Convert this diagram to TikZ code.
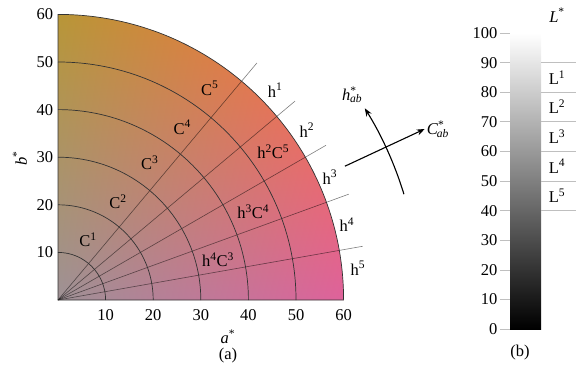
\documentclass[tikz,border=0pt]{standalone}
\usepackage{fontspec}
\setmainfont{Liberation Serif}
\usetikzlibrary{arrows.meta, shadings}

\definecolor{labUL}{RGB}{184,150,55}
\definecolor{labUR}{RGB}{255,110,60}
\definecolor{labLL}{RGB}{158,145,150}
\definecolor{labLR}{RGB}{222,98,155}

\begin{document}
\begin{tikzpicture}[x=1pt, y=1pt,
    ring/.style={draw=black!80, line width=0.7pt},
    hue/.style={draw=black, opacity=0.5, line width=0.6pt},
    tick/.style={draw=black!25, line width=0.6pt},
    lab/.style={font=\fontsize{16.5}{18}\selectfont, inner sep=0pt},
    dir/.style={line width=1.1pt, -{Stealth[length=8pt, width=6pt]}},
  ]
  \useasboundingbox (0,0) rectangle (588,370);

  \begin{scope}[shift={(58,70)}, x=4.76pt, y=4.76pt]
    \coordinate (o) at (0,0);
    \shade[upper left=labUL, upper right=labUR, lower left=labLL, lower right=labLR]
      (o) -- (60,0) arc (0:90:60) -- cycle;
    \foreach \a in {10,20,...,50}
      \draw[hue] (o) -- (\a:65);
    \foreach \r in {10,20,...,50}
      \draw[ring] (\r,0) arc (0:90:\r);
    \draw[ring] (o) -- (60,0) arc (0:90:60) -- cycle;

    \foreach \v in {10,20,...,60} {
      \node[lab, anchor=east] (y\v) at (-1,\v) {\v};
      \node[lab] (x\v) at (\v,-3.2) {\v};
    }
    \node[lab] (as) at (35.7,-7.8) {\textit{a}\textsuperscript{*}};
    \node[lab] (pa) at (35.7,-11.6) {(a)};
    \node[lab, rotate=90] (bs) at (-8,29.8) {\textit{b}\textsuperscript{*}};

    \foreach \n/\x/\y in {1/6.3/12.6, 2/12.6/20.6, 3/19.3/28.8, 4/26.1/36.3, 5/31.9/44.5}
      \node[lab] (c\n) at (\x,\y) {C\textsuperscript{\n}};
    \foreach \n/\x/\y in {1/45.6/44.1, 2/52.3/35.7, 3/57.1/25.8, 4/60.7/15.8, 5/63.0/6.7}
      \node[lab] (h\n) at (\x,\y) {h\textsuperscript{\n}};
    \node[lab] (h2c5) at (45.2,31.1) {h\textsuperscript{2}C\textsuperscript{5}};
    \node[lab] (h3c4) at (41.0,18.5) {h\textsuperscript{3}C\textsuperscript{4}};
    \node[lab] (h4c3) at (33.6,8.4) {h\textsuperscript{4}C\textsuperscript{3}};

    \coordinate (cs) at (25:66.5);
    \coordinate (ce) at (25:85);
    \draw[dir] (cs) -- (ce);
    \node[lab, anchor=west, xshift=2pt] (cab) at (ce)
      {\textit{C}\textsuperscript{*}\kern-0.45em\textsubscript{\textit{ab}}};
    \coordinate (hs) at (17:76);
    \draw[dir] (hs) arc (17:32:76) coordinate (he);
    \node[lab] (hab) at (61.8,43.1)
      {\textit{h}\textsuperscript{*}\kern-0.4em\textsubscript{\textit{ab}}};
  \end{scope}

  \begin{scope}[shift={(510,41)}, x=1pt, y=2.96pt]
    \shade[bottom color=black, top color=white] (0,0) rectangle (31,100);
    \foreach \v in {0,10,...,100} {
      \draw[tick] (-10,\v) -- (0,\v);
      \node[lab, anchor=east] (l\v) at (-12.5,\v) {\v};
    }
    \foreach \v in {40,50,...,90}
      \draw[tick] (31,\v) -- (66,\v);
    \foreach \n/\v in {1/85, 2/75, 3/65, 4/55, 5/45}
      \node[lab] (L\n) at (47,\v) {L\textsuperscript{\n}};
    \node[lab] (ls) at (47,106) {\textit{L}\textsuperscript{*}};
    \node[lab] (pb) at (10,-8.1) {(b)};
  \end{scope}
\end{tikzpicture}
\end{document}
